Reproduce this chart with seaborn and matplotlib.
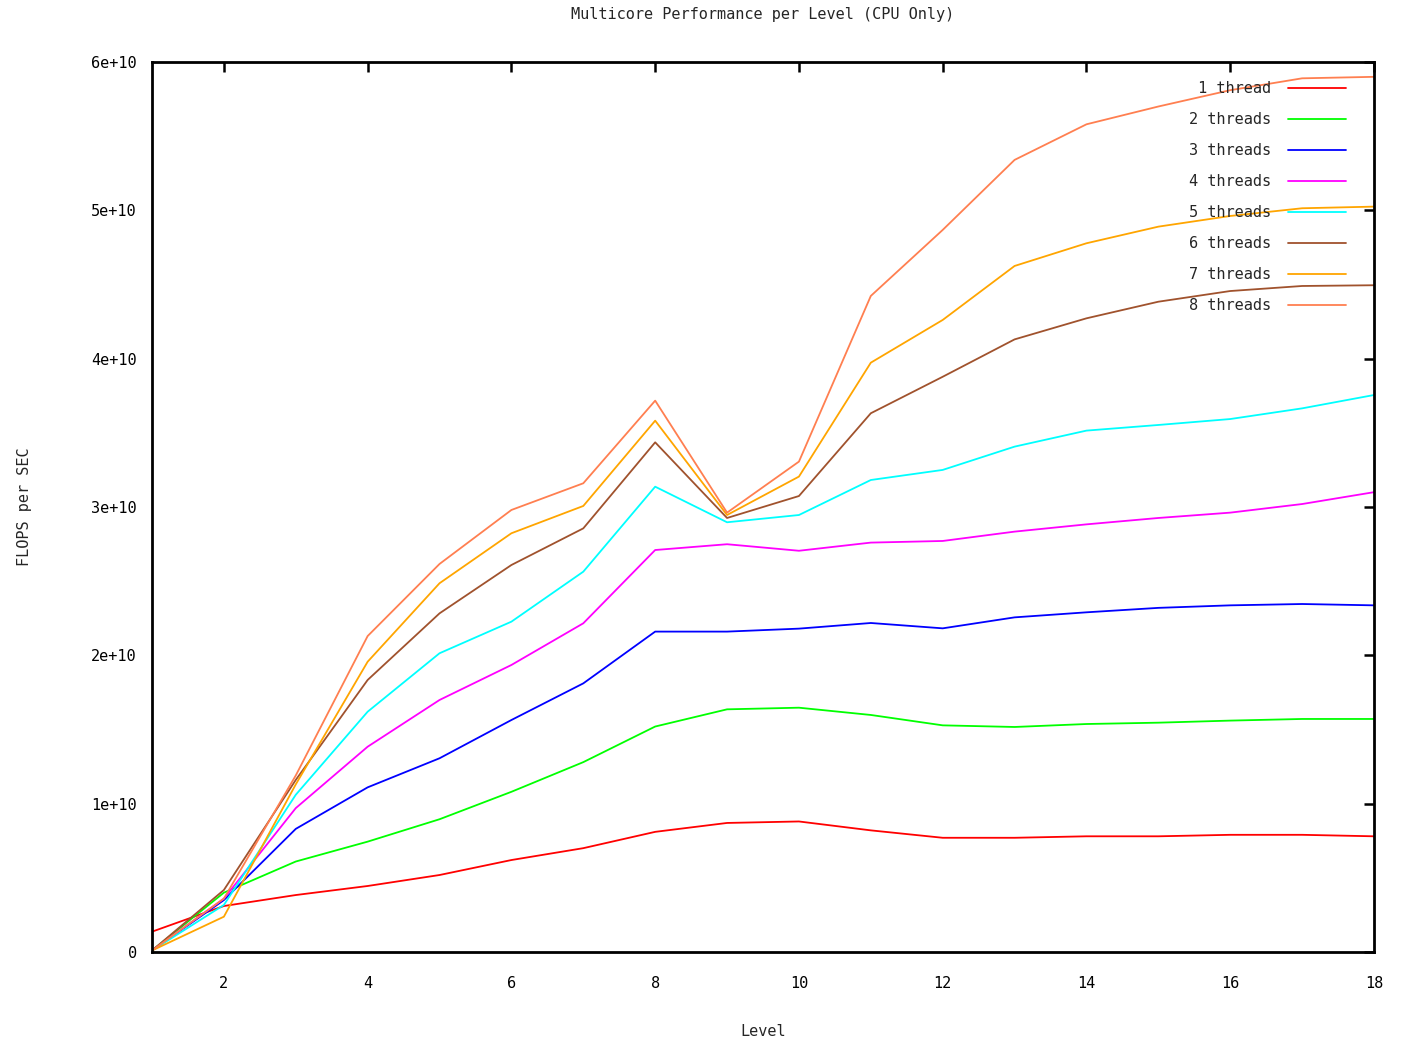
import matplotlib
matplotlib.use("Agg")
import matplotlib.pyplot as plt
import seaborn as sns
import pandas as pd
from matplotlib.ticker import FuncFormatter

# values, in units of 1e10 FLOPS per second
levels = list(range(1, 19))
t1 = [0.137, 0.31, 0.384, 0.445, 0.519, 0.62, 0.70, 0.81, 0.87, 0.88, 0.82, 0.77, 0.77, 0.78, 0.78, 0.79, 0.79, 0.78]
t2 = [0.01, 0.40, 0.61, 0.744, 0.895, 1.08, 1.28, 1.52, 1.636, 1.647, 1.598, 1.528, 1.517, 1.537, 1.546, 1.56, 1.571, 1.571]
t3 = [0.01, 0.35, 0.83, 1.11, 1.306, 1.564, 1.811, 2.16, 2.16, 2.18, 2.218, 2.182, 2.256, 2.29, 2.32, 2.337, 2.346, 2.337]
t4 = [0.01, 0.36, 0.97, 1.384, 1.699, 1.935, 2.216, 2.71, 2.749, 2.705, 2.76, 2.771, 2.834, 2.883, 2.926, 2.962, 3.02, 3.10]
t5 = [0.01, 0.317, 1.06, 1.62, 2.014, 2.227, 2.564, 3.137, 2.897, 2.946, 3.182, 3.25, 3.407, 3.515, 3.553, 3.593, 3.665, 3.755]
t6 = [0.01, 0.418, 1.16, 1.834, 2.283, 2.609, 2.856, 3.436, 2.926, 3.074, 3.632, 3.878, 4.13, 4.272, 4.384, 4.456, 4.49, 4.495]
t7 = [0.01, 0.238, 1.13, 1.957, 2.486, 2.823, 3.007, 3.582, 2.946, 3.205, 3.973, 4.261, 4.625, 4.778, 4.89, 4.962, 5.014, 5.025]
t8 = [0.01, 0.36, 1.19, 2.13, 2.616, 2.98, 3.16, 3.717, 2.962, 3.306, 4.423, 4.868, 5.34, 5.58, 5.70, 5.81, 5.89, 5.90]

names = ["1 thread", "2 threads", "3 threads", "4 threads",
         "5 threads", "6 threads", "7 threads", "8 threads"]
series = [t1, t2, t3, t4, t5, t6, t7, t8]
colors = ["#ff0000", "#00ff00", "#0000ff", "#ff00ff",
          "#00ffff", "#a0522d", "#ffa500", "#ff7f50"]

rows = []
for name, vals in zip(names, series):
    for lv, v in zip(levels, vals):
        rows.append({"Level": lv, "FLOPS": v * 1e10, "Series": name})
df = pd.DataFrame(rows)

sns.set_style("white")
plt.rcParams["font.family"] = ["DejaVu Sans Mono"]
plt.rcParams["font.size"] = 11

fig = plt.figure(figsize=(14.02, 10.46), dpi=100)
ax = fig.add_axes([152 / 1402, 94 / 1046, 1222 / 1402, 890 / 1046])

sns.lineplot(data=df, x="Level", y="FLOPS", hue="Series", hue_order=names,
             palette=dict(zip(names, colors)), linewidth=1.3, ax=ax, legend=False)

ax.set_xlim(1, 18)
ax.set_ylim(0, 6e10)
ax.set_xticks(range(2, 19, 2))
ax.set_yticks([i * 1e10 for i in range(7)])
ax.yaxis.set_major_formatter(FuncFormatter(lambda v, p: "%g" % v))
ax.tick_params(direction="in", length=7, width=1.8, top=True, right=True,
               labelsize=11, colors="black")
ax.tick_params(axis="x", pad=17)
ax.tick_params(axis="y", pad=11)
for s in ax.spines.values():
    s.set_linewidth(2)
    s.set_color("black")

ax.set_xlabel("Level", fontsize=11)
ax.set_ylabel("FLOPS per SEC", fontsize=11)
ax.xaxis.set_label_coords(0.5, -0.081)
ax.yaxis.set_label_coords(-0.098, 0.5)
fig.text(763 / 1402, 1 - 15 / 1046, "Multicore Performance per Level (CPU Only)",
         ha="center", va="center", fontsize=11)

handles = [plt.Line2D([], [], color=c, linewidth=1.3) for c in colors]
labels = [" " + names[0]] + names[1:]
ax.legend(handles, labels, loc="upper right", bbox_to_anchor=(0.977, 0.9785),
          frameon=False, markerfirst=False, handlelength=3.8, handletextpad=1.1,
          labelspacing=1.05, borderpad=0, borderaxespad=0, fontsize=11)

fig.savefig("out.png", dpi=100)
